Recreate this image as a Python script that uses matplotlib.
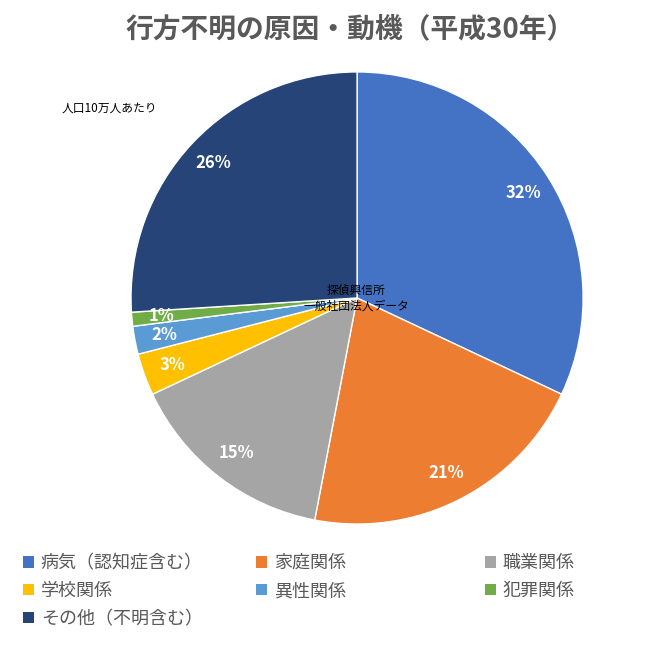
import matplotlib

matplotlib.use("Agg")
import matplotlib.pyplot as plt  # noqa: E402
from matplotlib.patches import Patch  # noqa: E402

plt.rcParams["font.family"] = "Noto Sans CJK JP"

categories = ["病気（認知症含む）", "家庭関係", "職業関係", "学校関係", "異性関係", "犯罪関係", "その他（不明含む）"]
shares = [32, 21, 15, 3, 2, 1, 26]
colors = ["#4472C4", "#ED7D31", "#A5A5A5", "#FFC000", "#5B9BD5", "#70AD47", "#264478"]

fig = plt.figure(figsize=(6.6, 6.6), dpi=100)
ax = fig.add_axes([0.1985, 0.206, 0.685, 0.685])
wedges, _, autotexts = ax.pie(
    shares, colors=colors, startangle=90, counterclock=False,
    autopct="%d%%", pctdistance=0.87,
    wedgeprops=dict(edgecolor="white", linewidth=1.0),
    textprops=dict(color="white", fontsize=12, fontweight="bold"),
)
ax.set_xlim(-1, 1)
ax.set_ylim(-1, 1)
ax.set_aspect("equal")

fig.text(0.53, 0.955, "行方不明の原因・動機（平成30年）", ha="center", va="center",
         fontsize=20, fontweight="bold", color="#595959")
fig.text(0.094, 0.836, "人口10万人あたり", ha="left", va="center", fontsize=8.5)
fig.text(0.54, 0.548, "探偵興信所\n一般社団法人データ", ha="center", va="center",
         fontsize=8.5, linespacing=1.3)

# one legend per column so the columns sit at fixed x positions
col_x = [0.01, 0.363, 0.71]
for c, x in enumerate(col_x):
    idx = list(range(c, len(categories), 3))
    handles = [Patch(facecolor=colors[i]) for i in idx]
    labels = [categories[i] for i in idx]
    fig.legend(handles, labels, loc="upper left", bbox_to_anchor=(x, 0.185),
               frameon=False, fontsize=13, labelcolor="#595959", handlelength=0.6,
               handleheight=0.6, handletextpad=0.4, labelspacing=0.55)

fig.savefig("out.png", dpi=100)
plt.close(fig)
